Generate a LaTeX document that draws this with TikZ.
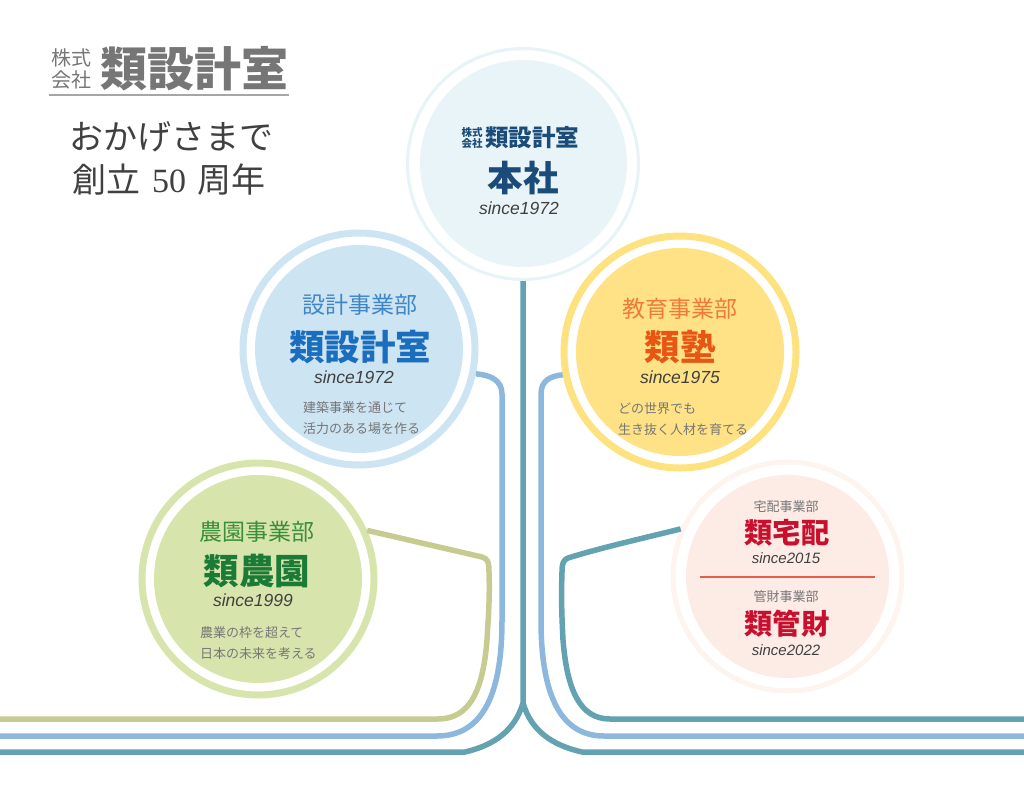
\documentclass[tikz,border=0pt]{standalone}
\usepackage{fontspec}
\setmainfont{Noto Sans CJK JP}
\newfontfamily\sincefont{Liberation Sans}
\newfontfamily\numfont{Liberation Serif}
\usepackage{xcolor}
\definecolor{trunk}{HTML}{63A2B0}
\definecolor{bluel}{HTML}{8DB8DE}
\definecolor{olivel}{HTML}{C6CB90}
\definecolor{grayt}{HTML}{767676}
\definecolor{honring}{HTML}{E6F3F7}
\definecolor{honfill}{HTML}{E8F4F7}
\definecolor{honcol}{HTML}{1B4B78}
\definecolor{sekring}{HTML}{CDE4F3}
\definecolor{sekkeit}{HTML}{3F86C6}
\definecolor{sekkeib}{HTML}{1B6DBE}
\definecolor{jukring}{HTML}{FDE27F}
\definecolor{jukfill}{HTML}{FEE285}
\definecolor{jukut}{HTML}{EE7B3B}
\definecolor{jukub}{HTML}{E95513}
\definecolor{noenring}{HTML}{D7E5AC}
\definecolor{noent}{HTML}{3B8F3B}
\definecolor{noenb}{HTML}{1B7A35}
\definecolor{kanring}{HTML}{FDF3EF}
\definecolor{kanfill}{HTML}{FDEBE6}
\definecolor{kanzai}{HTML}{C8102E}
\definecolor{sepcol}{HTML}{E2604A}
\def\px{0.75pt}
\newcommand{\pxfont}[1]{\fontsize{\fpeval{#1*0.75}pt}{\fpeval{#1*0.75}pt}\selectfont}
\tikzset{
txt/.style={inner sep=0,outer sep=0},
disc/.style 2 args={circle,inner sep=0,fill=#1,minimum size=#2*\px},
ring/.style n args={3}{circle,inner sep=0,draw=#1,fill=white,line width=#3*\px,minimum size=#2*\px},
since/.style={txt,font=\sincefont\itshape\pxfont{17.5},text=black!75},
sincesmall/.style={since,font=\sincefont\itshape\pxfont{15}},
title/.style={txt,font=\bfseries\pxfont{35.5}},
dept/.style={txt,font=\pxfont{23}},
desc/.style={txt,anchor=west,font=\pxfont{13},text=grayt},
smalldept/.style={txt,font=\pxfont{13},text=grayt},
smalltitle/.style={txt,font=\bfseries\pxfont{28.3},text=kanzai},
line/.style={line width=5.5*\px,line join=round}
}
\begin{document}
\begin{tikzpicture}[x=0.75pt,y=-0.75pt]
\useasboundingbox (0,0) rectangle (1024,795);
% rings
\node (honsha) at (523,164) [ring={honring}{231}{3}] {};
\node (sekkei) at (359,349) [ring={sekring}{232}{7}] {};
\node (juku) at (680,352) [ring={jukring}{232}{7}] {};
\node (noen) at (258,579) [ring={noenring}{232}{7}] {};
\node (kanri) at (787.5,576.5) [ring={kanring}{229}{5}] {};
\node (honshain) at (523.5,163.5) [disc={honfill}{207}] {};
\node (sekkeiin) at (359,349) [disc={sekring}{208}] {};
\node (jukuin) at (680,352) [disc={jukfill}{208}] {};
\node (noenin) at (258,579) [disc={noenring}{208}] {};
\node (kanriin) at (787.5,576.5) [disc={kanfill}{203}] {};
% connectors
\coordinate (split) at (523,703);
\draw [line,trunk] (honsha.south) -- (split)
  .. controls (515,730) and (495,745) .. (465,752) -- (0,752);
\draw [line,trunk] (split)
  .. controls (531,730) and (551,745) .. (582,752) -- (1024,752);
\draw [line,bluel] (sekkei.-12) .. controls (490,375) and (502,380) .. (502,394)
  -- (502,620) .. controls (502,690) and (485,736) .. (437,736) -- (0,736);
\draw [line,bluel] (juku.191) .. controls (551,376) and (541,380) .. (541,394)
  -- (541,620) .. controls (541,690) and (558,736) .. (604,736) -- (1024,736);
\draw [line,olivel] (noen.24) -- (482,557) .. controls (488,559) and (489,562) .. (489,572)
  .. controls (490,600) and (488,620) .. (487,640)
  .. controls (483,690) and (470,719) .. (438,719) -- (0,719);
\draw [line,trunk] (kanri.156) .. controls (640,539) and (600,548) .. (568,558)
  .. controls (563,560) and (562,564) .. (562,572)
  .. controls (561,600) and (562,620) .. (563,640)
  .. controls (567,690) and (580,719) .. (610,719) -- (1024,719);
% logo and greeting
\node (logoa) at (71,58) [txt,font=\pxfont{20},text=grayt] {株式};
\node (logob) at (71,80) [txt,font=\pxfont{20},text=grayt] {会社};
\node (logo) at (194,69) [txt,font=\bfseries\pxfont{47},text=grayt] {類設計室};
\coordinate (rulea) at (49,95);
\coordinate (ruleb) at (289,95);
\draw [black!35,line width=1.2*\px] (rulea) -- (ruleb);
\node (thanks) at (171,137) [txt,font=\pxfont{34},text=black!75] {おかげさまで};
\node (years) at (169,180) [txt,font=\pxfont{34},text=black!75] {創立\hspace{3pt} {\numfont 50} \hspace{3pt}周年};
% head office
\node (hlogoa) at (472,132.5) [txt,font=\bfseries\pxfont{10.5},text=honcol] {株式};
\node (hlogob) at (472,144) [txt,font=\bfseries\pxfont{10.5},text=honcol] {会社};
\node (hlogo) at (532,138) [txt,font=\bfseries\pxfont{23.5},text=honcol] {類設計室};
\node (hname) at (523,178) [title,text=honcol] {本社};
\node (hsince) at (519,208) [since] {since1972};
% design
\node (sdept) at (360,305) [dept,text=sekkeit] {設計事業部};
\node (sname) at (360,347) [title,text=sekkeib] {類設計室};
\node (ssince) at (354,377) [since] {since1972};
\node (sdesca) at (303,408) [desc] {建築事業を通じて};
\node (sdescb) at (303,429) [desc] {活力のある場を作る};
% education
\node (jdept) at (680,309) [dept,text=jukut] {教育事業部};
\node (jname) at (680,347) [title,text=jukub] {類塾};
\node (jsince) at (680,377) [since] {since1975};
\node (jdesca) at (618,409) [desc] {どの世界でも};
\node (jdescb) at (618,430) [desc] {生き抜く人材を育てる};
% farm
\node (ndept) at (257,532) [dept,text=noent] {農園事業部};
\node (nname) at (257,571) [title,text=noenb] {類農園};
\node (nsince) at (253,600) [since] {since1999};
\node (ndesca) at (200,633) [desc] {農業の枠を超えて};
\node (ndescb) at (200,654) [desc] {日本の未来を考える};
% housing and property
\node (tdept) at (786,507) [smalldept] {宅配事業部};
\node (tname) at (787,533) [smalltitle] {類宅配};
\node (tsince) at (786,558) [sincesmall] {since2015};
\coordinate (sepa) at (700,577);
\coordinate (sepb) at (875,577);
\draw [sepcol,line width=1.2*\px] (sepa) -- (sepb);
\node (kdept) at (786,597) [smalldept] {管財事業部};
\node (kname) at (787,624) [smalltitle] {類管財};
\node (ksince) at (786,650) [sincesmall] {since2022};
\end{tikzpicture}
\end{document}
